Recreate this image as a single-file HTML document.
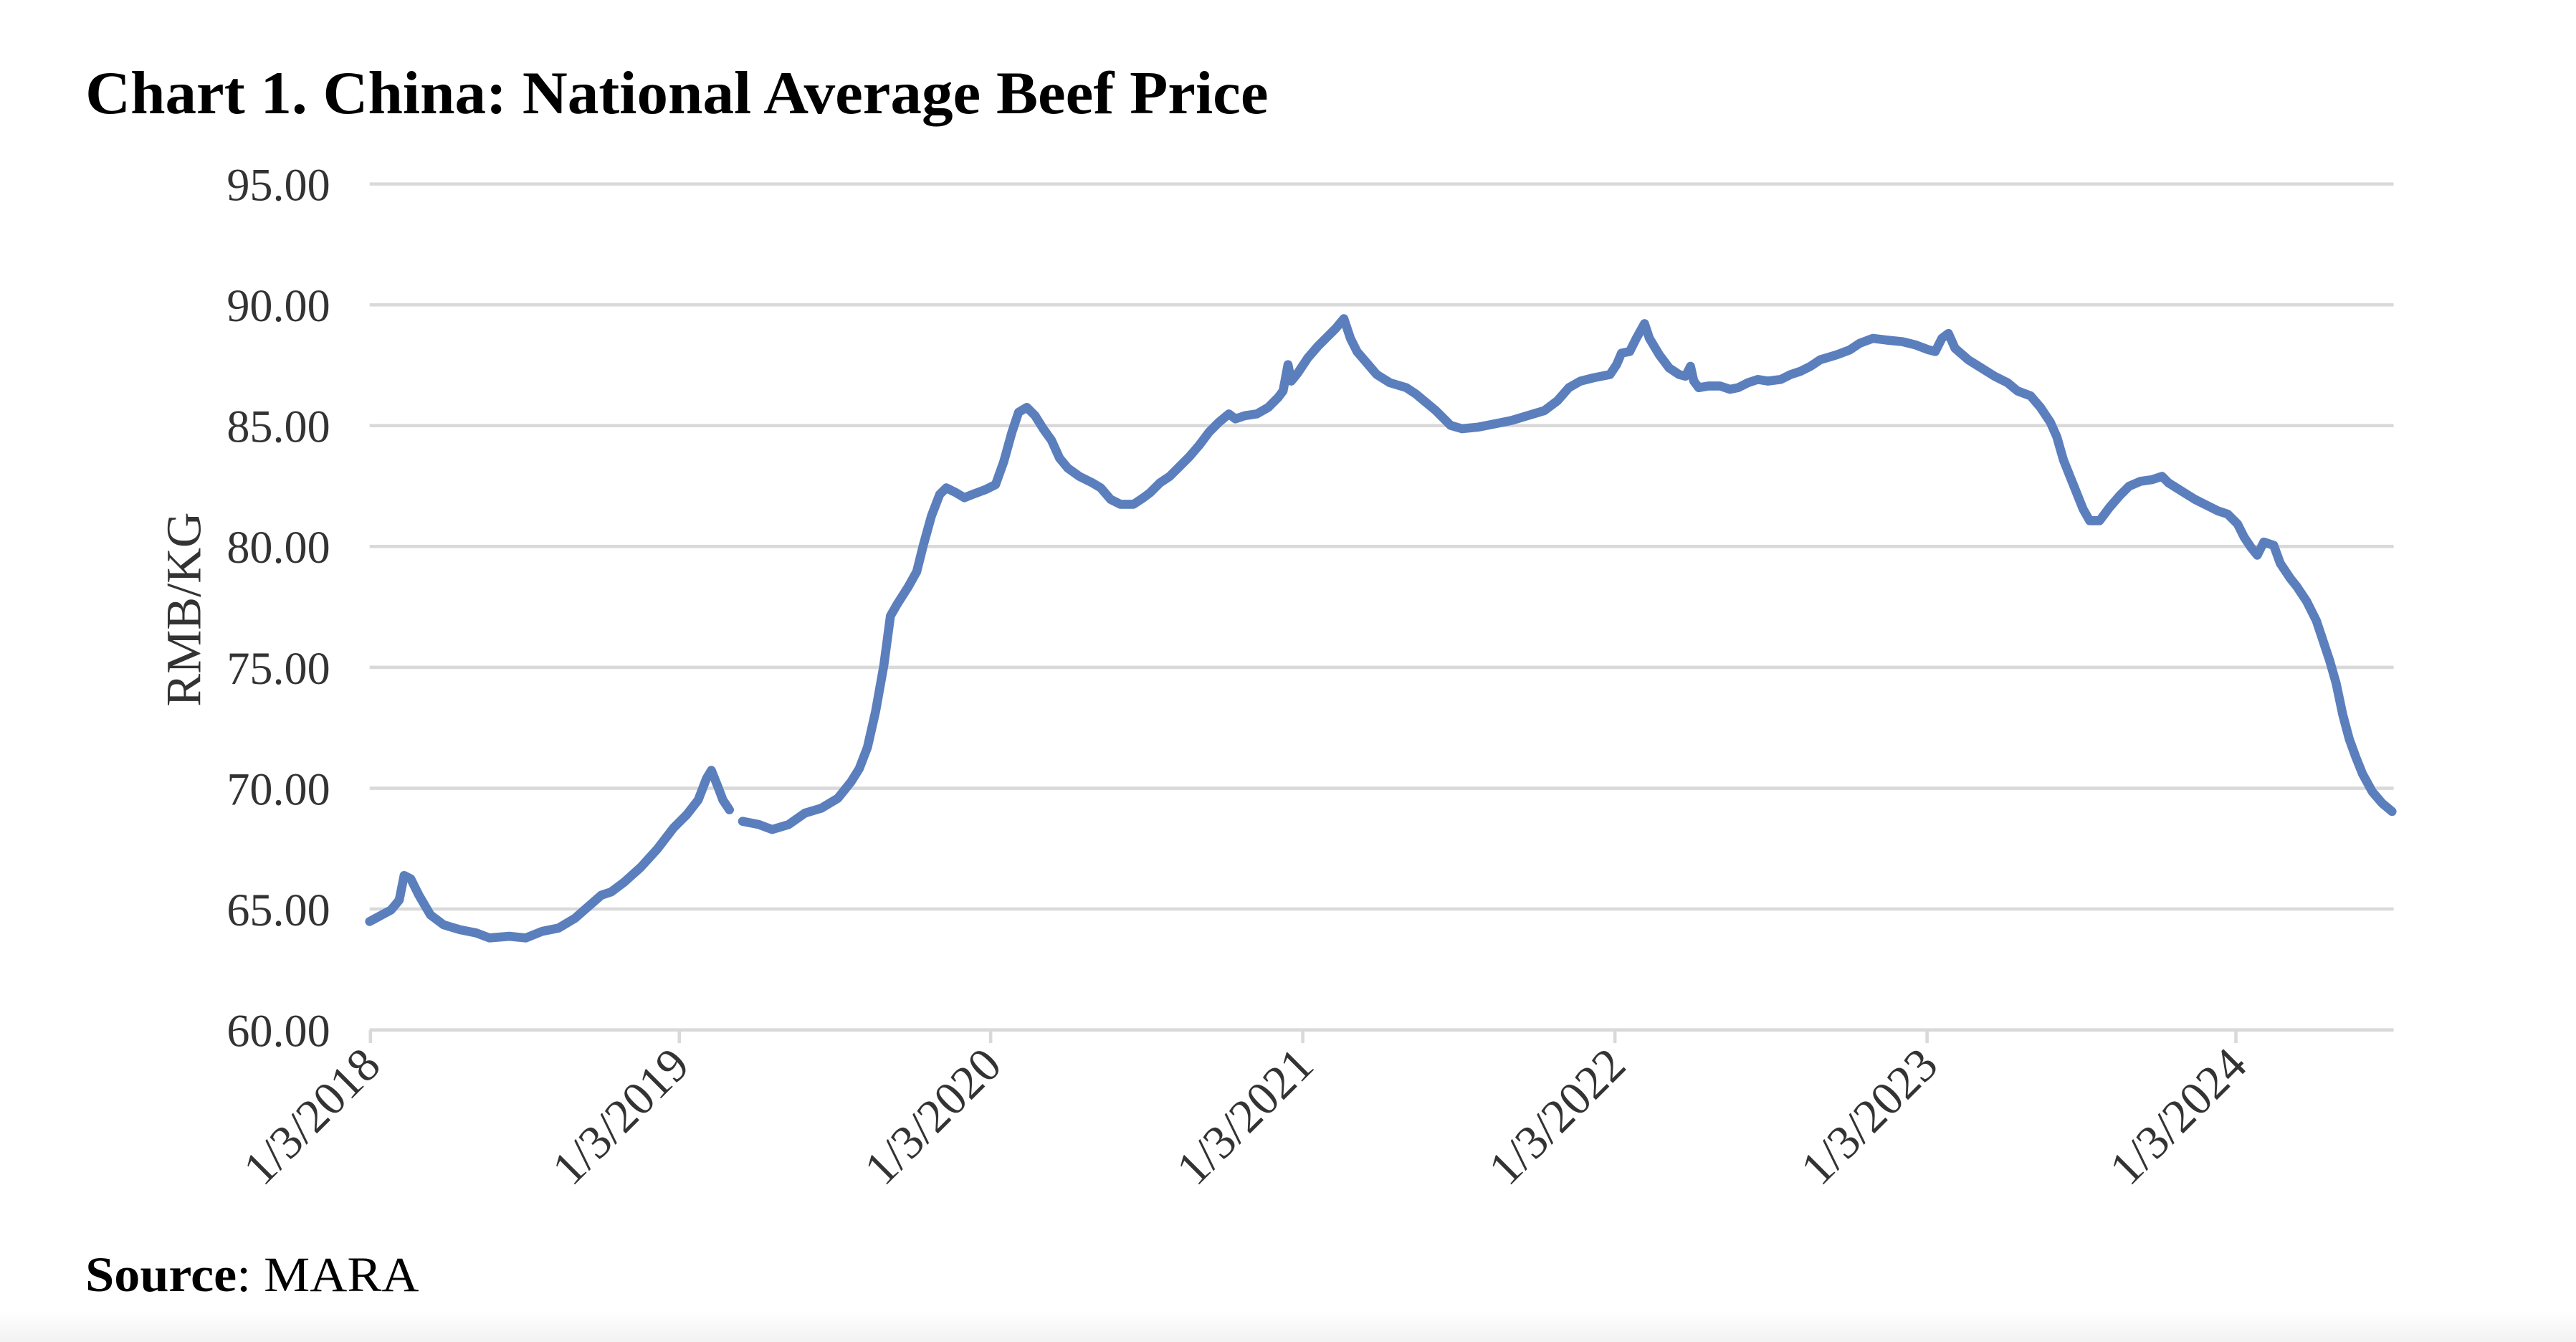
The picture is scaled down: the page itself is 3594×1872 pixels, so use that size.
<!DOCTYPE html>
<html><head><meta charset="utf-8"><style>
html,body{margin:0;padding:0;background:#fff;}
svg{display:block;}
</style></head><body>
<svg width="3594" height="1872" viewBox="0 0 1568 817" preserveAspectRatio="none" xmlns="http://www.w3.org/2000/svg">
<defs><linearGradient id="bg" x1="0" y1="0" x2="0" y2="1"><stop offset="0" stop-color="#ffffff"/><stop offset="1" stop-color="#f2f2f2"/></linearGradient></defs>
<rect width="1568" height="817" fill="#fff"/>
<rect y="798" width="1568" height="19" fill="url(#bg)"/>
<text x="52" y="69" font-family="Liberation Serif, serif" font-weight="bold" font-size="37" fill="#000" textLength="720" lengthAdjust="spacingAndGlyphs">Chart 1. China: National Average Beef Price</text>
<g stroke="#d9d9d9" stroke-width="2">
<line x1="225" x2="1457" y1="112" y2="112"/>
<line x1="225" x2="1457" y1="185.6" y2="185.6"/>
<line x1="225" x2="1457" y1="259.1" y2="259.1"/>
<line x1="225" x2="1457" y1="332.7" y2="332.7"/>
<line x1="225" x2="1457" y1="406.3" y2="406.3"/>
<line x1="225" x2="1457" y1="479.9" y2="479.9"/>
<line x1="225" x2="1457" y1="553.4" y2="553.4"/>
<line x1="225" x2="1457" y1="627" y2="627"/>
<line x1="225.5" x2="225.5" y1="627" y2="635"/>
<line x1="413.5" x2="413.5" y1="627" y2="635"/>
<line x1="603" x2="603" y1="627" y2="635"/>
<line x1="793" x2="793" y1="627" y2="635"/>
<line x1="983" x2="983" y1="627" y2="635"/>
<line x1="1173" x2="1173" y1="627" y2="635"/>
<line x1="1361" x2="1361" y1="627" y2="635"/>
</g>
<g font-family="Liberation Serif, serif" font-size="28" fill="#333" text-anchor="end">
<text x="201" y="122">95.00</text>
<text x="201" y="195.6">90.00</text>
<text x="201" y="269.1">85.00</text>
<text x="201" y="342.7">80.00</text>
<text x="201" y="416.3">75.00</text>
<text x="201" y="489.9">70.00</text>
<text x="201" y="563.4">65.00</text>
<text x="201" y="637">60.00</text>
</g>
<g font-family="Liberation Serif, serif" font-size="29" fill="#333" text-anchor="end">
<text transform="translate(233,650) rotate(-45)">1/3/2018</text>
<text transform="translate(421,650) rotate(-45)">1/3/2019</text>
<text transform="translate(611,650) rotate(-45)">1/3/2020</text>
<text transform="translate(801,650) rotate(-45)">1/3/2021</text>
<text transform="translate(991,650) rotate(-45)">1/3/2022</text>
<text transform="translate(1181,650) rotate(-45)">1/3/2023</text>
<text transform="translate(1369,650) rotate(-45)">1/3/2024</text>
</g>
<text transform="translate(122,371) rotate(-90)" font-family="Liberation Serif, serif" font-size="30" fill="#333" text-anchor="middle">RMB/KG</text>
<text x="52" y="786" font-family="Liberation Serif, serif" font-size="30" fill="#000" textLength="203" lengthAdjust="spacingAndGlyphs"><tspan font-weight="bold">Source</tspan>: MARA</text>
<g fill="none" stroke="#5b7fbd" stroke-width="5.5" stroke-linejoin="round" stroke-linecap="round">
<polyline points="225,561 238,554 243,548 246,533 250,535 255,545 262,557 270,563 280,566 290,568 298,571 310,570 320,571 330,567 340,565 350,559 358,552 366,545 372,543 380,537 390,528 400,517 410,504 418,496 425,487 430,474 433,469 437,479 440,487 444,493"/>
<polyline points="452,500 462,502 470,505 480,502 490,495 500,492 510,486 518,476 523,468 528,455 533,433 538,405 542,375 546,368 553,357 558,348 562,332 567,314 572,301 576,297 582,300 587,303 592,301 600,298 606,295 611,281 616,263 620,251 625,248 630,253 635,261 640,268 645,279 650,285 657,290 665,294 670,297 676,304 682,307 690,307 696,303 700,300 706,294 712,290 718,284 724,278 730,271 736,263 742,257 748,252 752,255 758,253 765,252 772,248 778,242 781,238 784,222 786,232 790,227 796,218 802,211 808,205 813,200 818,194 822,206 826,214 832,221 838,228 846,233 856,236 862,240 868,245 874,250 878,254 883,259 890,261 900,260 910,258 920,256 930,253 940,250 948,244 955,236 962,232 970,230 980,228 984,222 987,215 992,214 996,206 1001,197 1004,206 1010,216 1016,224 1022,228 1026,229 1029,223 1031,232 1034,236 1040,235 1047,235 1053,237 1058,236 1064,233 1070,231 1076,232 1084,231 1090,228 1096,226 1102,223 1108,219 1118,216 1126,213 1132,209 1140,206 1148,207 1158,208 1166,210 1174,213 1178,214 1182,206 1186,203 1190,212 1198,219 1206,224 1214,229 1222,233 1228,238 1236,241 1242,248 1248,257 1252,266 1256,280 1260,290 1264,300 1268,310 1272,317 1278,317 1284,309 1290,302 1296,296 1303,293 1310,292 1316,290 1320,294 1328,299 1336,304 1344,308 1350,311 1356,313 1362,319 1366,327 1370,333 1374,338 1378,330 1384,332 1388,343 1394,352 1398,357 1404,366 1410,378 1414,390 1418,402 1422,416 1426,435 1430,450 1434,461 1438,471 1444,482 1450,489 1456,494"/>
</g>
</svg>
</body></html>
